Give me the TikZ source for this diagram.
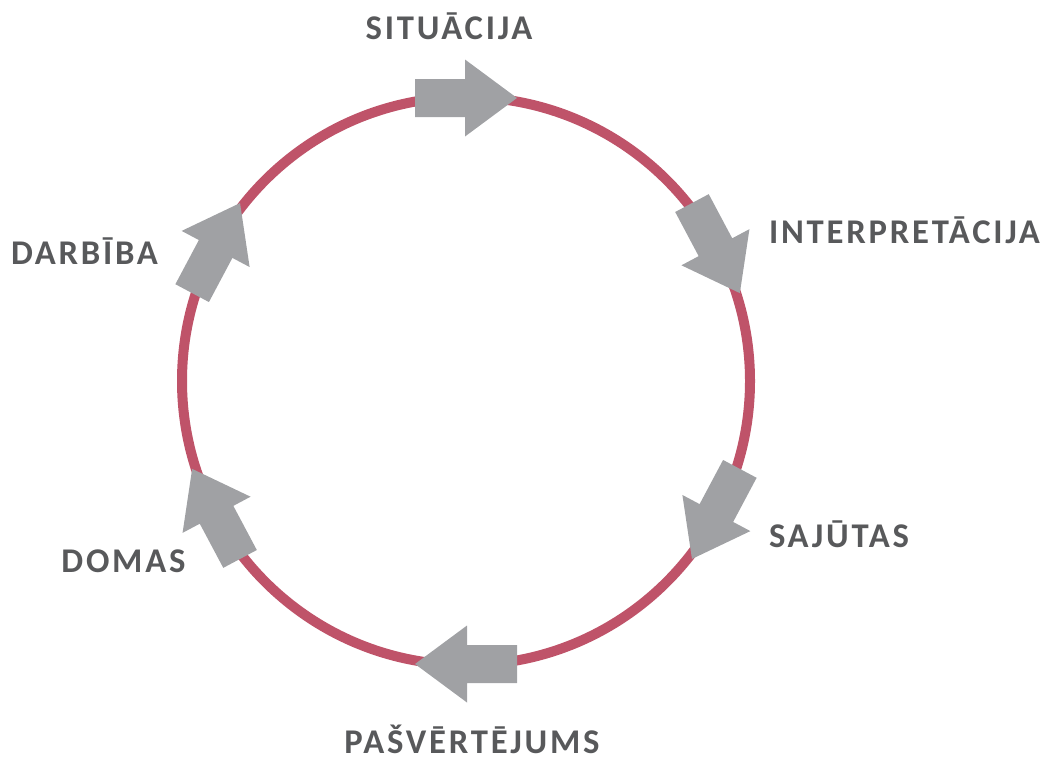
\documentclass[tikz,border=0pt]{standalone}
\usepackage{fontspec}
\setmainfont{Carlito}
\newfontfamily\lblfont{Carlito}[LetterSpace=8]
\definecolor{ringred}{HTML}{BF5369}
\definecolor{arrowgray}{HTML}{A0A1A4}
\definecolor{labelgray}{HTML}{58595B}
\tikzset{
  ring/.style={draw=ringred, line width=7.5pt},
  lbl/.style={text=labelgray, font=\lblfont\fontsize{26}{30}\selectfont\bfseries, inner sep=0pt, anchor=base},
  barrow/.pic={\fill[arrowgray] (-51,-19) -- (-1,-19) -- (-1,-38.5) -- (51,0) -- (-1,38.5) -- (-1,19) -- (-51,19) -- cycle;}
}
\begin{document}
\begin{tikzpicture}[x=0.75pt,y=-0.75pt]
\useasboundingbox (0,0) rectangle (1045,760);
\coordinate (C) at (466,381);
\draw[ring] (C) circle[radius=284];
\coordinate (p1) at (466,98);
\coordinate (p2) at (715.9,248.1);
\coordinate (p3) at (715.9,513.9);
\coordinate (p4) at (466,664);
\coordinate (p5) at (216.1,513.9);
\coordinate (p6) at (216.1,248.1);
\pic[rotate=0] at (p1) {barrow};
\pic[rotate=-62] at (p2) {barrow};
\pic[rotate=-118] at (p3) {barrow};
\pic[rotate=180] at (p4) {barrow};
\pic[rotate=118] at (p5) {barrow};
\pic[rotate=62] at (p6) {barrow};
\node[lbl] (t1) at (449,39) {SITUĀCIJA};
\node[lbl] (t2) at (904.5,243) {INTERPRETĀCIJA};
\node[lbl] (t3) at (839,547) {SAJŪTAS};
\node[lbl] (t4) at (472,753) {PAŠVĒRTĒJUMS};
\node[lbl] (t5) at (84.5,264) {DARBĪBA};
\node[lbl] (t6) at (123.5,572) {DOMAS};
\end{tikzpicture}
\end{document}
